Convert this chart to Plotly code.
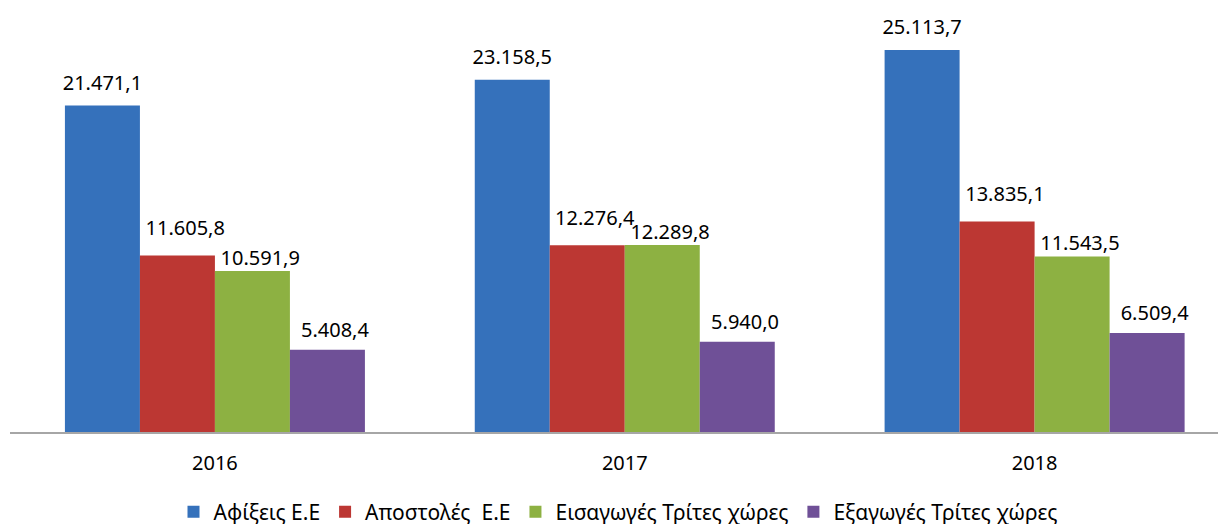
import plotly.graph_objects as go

years = ["2016", "2017", "2018"]
series_names = ["Αφίξεις Ε.Ε", "Αποστολές  Ε.Ε", "Εισαγωγές Τρίτες χώρες", "Εξαγωγές Τρίτες χώρες"]
arrivals = [21471.1, 23158.5, 25113.7]
dispatches = [11605.8, 12276.4, 13835.1]
imports_third = [10591.9, 12289.8, 11543.5]
exports_third = [5408.4, 5940.0, 6509.4]

series_values = [arrivals, dispatches, imports_third, exports_third]
colors = ["#3571BB", "#BC3733", "#8DB142", "#6F5097"]
# label styling per series: vertical spacing above the bar (value units) and left padding
label_gaps = [430, 760, -200, 230]
label_pads = ["", "\u00a0\u00a0\u00a0", "\u00a0\u00a0\u00a0", "\u00a0\u00a0\u00a0"]

FONT = "Noto Sans"


def fmt(v):
    s = f"{v:,.1f}"
    return s.replace(",", "X").replace(".", ",").replace("X", ".")


fig = go.Figure()
for i, (name, vals, col) in enumerate(zip(series_names, series_values, colors)):
    fig.add_trace(go.Bar(
        x=years, y=vals, name=name, offsetgroup=str(i),
        marker=dict(color=col, line=dict(width=0)),
        hoverinfo="skip",
    ))
for i, (vals, gap, pad) in enumerate(zip(series_values, label_gaps, label_pads)):
    fig.add_trace(go.Bar(
        x=years, y=[v + gap for v in vals], offsetgroup=str(i),
        marker=dict(color="rgba(0,0,0,0)", line=dict(width=0)),
        text=[pad + fmt(v) for v in vals], textposition="outside",
        textfont=dict(family=FONT, size=20, color="#000000"),
        constraintext="none", cliponaxis=False,
        showlegend=False, hoverinfo="skip",
    ))

fig.update_layout(
    width=1218, height=540,
    margin=dict(l=2, r=0, t=2, b=116),
    paper_bgcolor="white", plot_bgcolor="white",
    barmode="group", bargap=0.268, bargroupgap=0,
    font=dict(family=FONT, size=20, color="#000000"),
    showlegend=True,
    legend=dict(orientation="h", x=0.5, xanchor="center", y=-0.19, yanchor="middle",
                font=dict(family=FONT, size=21, color="#000000"), itemwidth=30,
                traceorder="normal"),
)
fig.update_xaxes(
    type="category", range=[-0.5, 2.467],
    showline=True, linecolor="#A6A6A6", linewidth=1.5,
    ticks="outside", ticklen=12, tickcolor="rgba(0,0,0,0)",
    tickfont=dict(family=FONT, size=20, color="#000000"),
    showgrid=False, zeroline=False, fixedrange=True,
)
fig.update_yaxes(
    range=[0, 27745], visible=False, showgrid=False, zeroline=False, fixedrange=True,
)

fig.write_html("out.html")
